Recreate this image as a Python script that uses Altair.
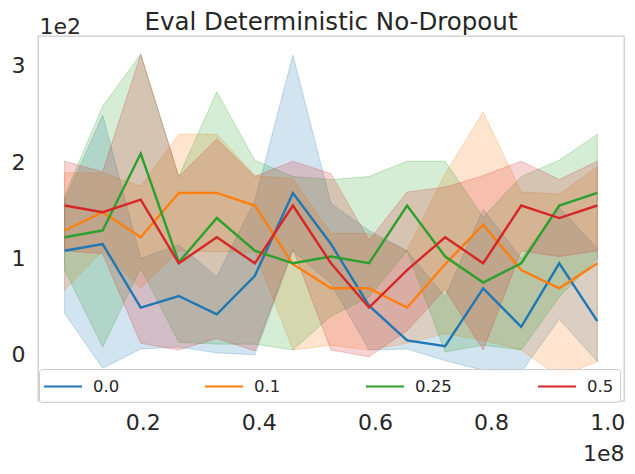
import altair as alt
import pandas as pd

# x positions (environment steps)
steps = [6553600, 13107200, 19660800, 26214400, 32768000, 39321600, 45875200,
         52428800, 58982400, 65536000, 72089600, 78643200, 85196800, 91750400, 98304000]

series_names = ["0.0", "0.1", "0.25", "0.5"]
colors = ["#1f77b4", "#ff7f0e", "#2ca02c", "#d62728"]

mean_00 = [108, 115, 49, 61, 42, 82, 168, 115, 51, 15, 9, 69, 29, 95, 35]
upper_00 = [160, 249, 100, 114, 81, 160, 311, 157, 129, 108, 60, 151, 100, 153, 110]
lower_00 = [43, -14, 6, 8, 2, 0, 108, 74, 5, 6, -6, -16, -18, 37, -7]

mean_01 = [129, 148, 122, 168, 168, 155, 94, 69, 69, 49, 94, 135, 88, 69, 95]
upper_01 = [189, 189, 175, 229, 229, 186, 183, 126, 126, 108, 188, 252, 169, 167, 195]
lower_01 = [67, 108, 69, 108, 107, 107, 5, 10, 5, 12, 22, 15, 5, -23, -7]

mean_025 = [122, 129, 209, 96, 142, 108, 95, 102, 95, 155, 102, 75, 95, 155, 168]
upper_025 = [165, 258, 312, 185, 273, 202, 185, 182, 185, 201, 201, 143, 185, 202, 229]
lower_025 = [88, 8, 90, 13, 11, 11, 5, 40, 60, 108, 3, 10, 5, 60, 100]

mean_05 = [155, 148, 161, 95, 122, 95, 155, 95, 49, 88, 122, 95, 155, 142, 155]
upper_05 = [201, 190, 312, 185, 224, 185, 201, 188, 119, 169, 174, 186, 201, 182, 201]
lower_05 = [108, 105, 12, 5, 17, 4, 110, 5, -2, 25, 68, 5, 108, 102, 108]

means = [mean_00, mean_01, mean_025, mean_05]
uppers = [upper_00, upper_01, upper_025, upper_05]
lowers = [lower_00, lower_01, lower_025, lower_05]

rows = []
for name, m, u, l in zip(series_names, means, uppers, lowers):
    for x, mv, uv, lv in zip(steps, m, u, l):
        rows.append({"dropout": name, "grp": name, "step": x, "mean": mv, "hi": uv, "lo": lv})
df = pd.DataFrame(rows)

TXT = "#262626"

xscale = alt.Scale(domain=[1970000, 102900000], nice=False, zero=False)
yscale = alt.Scale(domain=[-48, 331], nice=False, zero=False)
cscale = alt.Scale(domain=series_names, range=colors)

xaxis = alt.Axis(values=[20000000, 40000000, 60000000, 80000000, 100000000],
                 labelExpr="format(datum.value / 100000000, '.1f')",
                 labelFontSize=22, labelColor=TXT, labelPadding=11,
                 ticks=False, domain=False, grid=False,
                 title="1e8", titleFontSize=22, titleFontWeight="normal", titleColor=TXT,
                 titleAlign="right", titleAnchor="end", titleX=586, titleY=59,
                 titleBaseline="alphabetic")
yaxis = alt.Axis(values=[0, 100, 200, 300],
                 labelExpr="format(datum.value / 100, 'd')",
                 labelFontSize=22, labelColor=TXT, labelPadding=13,
                 ticks=False, domain=False, grid=False,
                 title="1e2", titleFontSize=22, titleFontWeight="normal", titleColor=TXT,
                 titleAngle=0, titleAlign="left", titleX=1, titleY=-3,
                 titleBaseline="alphabetic")

base = alt.Chart(df)

band = base.mark_area(fillOpacity=0.2, strokeOpacity=0.25, strokeWidth=1).encode(
    x=alt.X("step:Q", scale=xscale, axis=xaxis),
    y=alt.Y("lo:Q", scale=yscale, axis=yaxis),
    y2="hi:Q",
    fill=alt.Fill("grp:N", scale=cscale, legend=None),
    stroke=alt.Stroke("grp:N", scale=cscale, legend=None),
    detail="grp:N",
)

line = base.mark_line(strokeWidth=2.4).encode(
    x=alt.X("step:Q", scale=xscale),
    y=alt.Y("mean:Q", scale=yscale),
    color=alt.Color("dropout:N", scale=cscale, sort=series_names,
                    legend=alt.Legend(orient="none", legendX=1, legendY=333,
                                      direction="horizontal", columns=4,
                                      gridAlign="none", columnPadding=81,
                                      symbolType="M-2,0H2", symbolSize=361,
                                      symbolOffset=6.5,
                                      symbolStrokeWidth=2.2, symbolOpacity=1,
                                      labelFontSize=16.5, labelColor=TXT, labelOffset=19,
                                      padding=6.5, strokeColor="#cccccc",
                                      fillColor="rgba(255,255,255,0.8)",
                                      cornerRadius=3, title=None)),
)

chart = alt.layer(band, line).resolve_scale(fill="independent", stroke="independent").properties(
    width=586, height=365,
    title=alt.TitleParams("Eval Deterministic No-Dropout", fontSize=24.5,
                          fontWeight="normal", color=TXT, anchor="middle",
                          baseline="alphabetic", offset=7, frame="group", dy=46),
    autosize=alt.AutoSizeParams(type="none"),
    padding={"left": 30, "top": 28, "right": 3, "bottom": 65},
).configure(font="DejaVu Sans").configure_view(stroke="#cccccc", strokeWidth=1.3)

chart.save("out.html", embed_options={"renderer": "svg", "actions": False})
